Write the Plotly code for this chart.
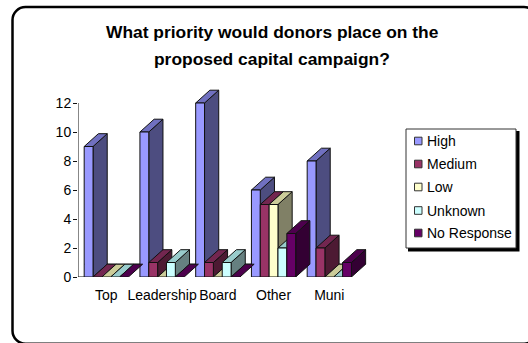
import plotly.graph_objects as go

categories = ["Top", "Leadership", "Board", "Other", "Muni"]
series_names = ["High", "Medium", "Low", "Unknown", "No Response"]
high = [9, 10, 12, 6, 8]
medium = [0, 1, 1, 5, 2]
low = [0, 0, 0, 5, 0]
unknown = [0, 1, 1, 2, 0]
no_response = [0, 0, 0, 3, 1]
y_ticks = [0, 2, 4, 6, 8, 10, 12]

front_colors = ["#9999FF", "#993366", "#FFFFCC", "#CCFFFF", "#660066"]
top_colors = ["#7070C0", "#732650", "#CCCC99", "#99CCCC", "#4D004D"]
side_colors = ["#4D4D80", "#4D1A33", "#808066", "#668080", "#330033"]

W, H = 528, 343
LEFT, RIGHT, TOP, BOTTOM = 78, 370, 80, 277
GROUP_PX = 55.75
UNIT_PX = 14.5
Y_MAX = (BOTTOM - TOP) / UNIT_PX

BAR_W = 8.85 / GROUP_PX
DEPTH_X = 14.2 / GROUP_PX
DEPTH_Y = 12.8 / UNIT_PX
X_MIN = (LEFT - 106.3) / GROUP_PX
X_MAX = (RIGHT - 106.3) / GROUP_PX


def paper_x(px):
    return (px - LEFT) / (RIGHT - LEFT)


def paper_y(py):
    return (BOTTOM - py) / (BOTTOM - TOP)


def polygons(faces):
    xs, ys = [], []
    for face in faces:
        xs += [p[0] for p in face] + [face[0][0], None]
        ys += [p[1] for p in face] + [face[0][1], None]
    return xs, ys


def face_trace(faces, color):
    xs, ys = polygons(faces)
    return go.Scatter(
        x=xs, y=ys, mode="lines", fill="toself", fillcolor=color,
        line=dict(color="#111111", width=1), cliponaxis=False,
        showlegend=False, hoverinfo="skip",
    )


def rule(xs, ys):
    return go.Scatter(x=xs, y=ys, mode="lines", line=dict(color="#111111", width=1),
                      cliponaxis=False, showlegend=False, hoverinfo="skip")


fig = go.Figure()

last_back = len(categories) - 1 + 2.5 * BAR_W + DEPTH_X
# Value axis stops at the highest tick; the rear floor edge shows between the groups
fig.add_trace(rule([X_MIN, X_MIN], [0, y_ticks[-1]]))
fig.add_trace(rule([X_MIN + 6 / GROUP_PX, last_back], [DEPTH_Y, DEPTH_Y]))
fig.add_trace(rule([X_MIN, X_MIN + 6.3 / GROUP_PX], [0, 0]))

# Columns drawn left to right so each front covers its neighbour's side
all_series = [high, medium, low, unknown, no_response]
for s, values in enumerate(all_series):
    tops, sides, fronts = [], [], []
    for i, v in enumerate(values):
        x0 = i - 2.5 * BAR_W + s * BAR_W
        x1 = x0 + BAR_W
        tops.append([(x0, v), (x1, v), (x1 + DEPTH_X, v + DEPTH_Y), (x0 + DEPTH_X, v + DEPTH_Y)])
        if v > 0:
            sides.append([(x1, 0), (x1 + DEPTH_X, DEPTH_Y), (x1 + DEPTH_X, v + DEPTH_Y), (x1, v)])
            fronts.append([(x0, 0), (x1, 0), (x1, v), (x0, v)])
    if sides:
        fig.add_trace(face_trace(sides, side_colors[s]))
    fig.add_trace(face_trace(tops, top_colors[s]))
    if fronts:
        fig.add_trace(face_trace(fronts, front_colors[s]))

FONT = "Liberation Sans, Arial, sans-serif"

# Rounded chart frame running off the right and bottom edges of the page
fl, ft, fr, fb = paper_x(12.5), paper_y(7), paper_x(537), paper_y(343.7)
rx, ry = 13 / (RIGHT - LEFT), 13 / (BOTTOM - TOP)
frame = (
    f"M {fl + rx},{fb} C {fl + rx * 0.45},{fb} {fl},{fb + ry * 0.45} {fl},{fb + ry} "
    f"L {fl},{ft - ry} C {fl},{ft - ry * 0.45} {fl + rx * 0.45},{ft} {fl + rx},{ft} "
    f"L {fr - rx},{ft} C {fr - rx * 0.45},{ft} {fr},{ft - ry * 0.45} {fr},{ft - ry} "
    f"L {fr},{fb + ry} C {fr},{fb + ry * 0.45} {fr - rx * 0.45},{fb} {fr - rx},{fb} Z"
)
shapes = [dict(type="path", xref="paper", yref="paper", path=frame,
               line=dict(color="#000000", width=2.5), layer="below")]

# Legend box with its drop shadow
shapes.append(dict(type="rect", xref="paper", yref="paper",
                   x0=paper_x(408), x1=paper_x(519.5), y0=paper_y(251.5), y1=paper_y(131),
                   fillcolor="#000000", line=dict(width=0), layer="below"))
shapes.append(dict(type="rect", xref="paper", yref="paper",
                   x0=paper_x(406), x1=paper_x(516), y0=paper_y(248), y1=paper_y(129),
                   fillcolor="#FFFFFF", line=dict(color="#333333", width=1), layer="below"))

annotations = []
row_y = [141, 164, 187, 210.5, 233]
for name, color, yc in zip(series_names, front_colors, row_y):
    shapes.append(dict(type="rect", xref="paper", yref="paper",
                       x0=paper_x(414.5), x1=paper_x(422), y0=paper_y(yc + 3.8), y1=paper_y(yc - 3.8),
                       fillcolor=color, line=dict(color="#333333", width=1), layer="below"))
    annotations.append(dict(xref="paper", yref="paper", x=paper_x(425), y=paper_y(yc),
                            xanchor="left", yanchor="middle", showarrow=False, text=name,
                            font=dict(family=FONT, size=14, color="#000000")))

for text, yc in [("What priority would donors place on the", 32),
                 ("proposed capital campaign?", 59)]:
    annotations.append(dict(xref="paper", yref="paper", x=paper_x(272), y=paper_y(yc),
                            xanchor="center", yanchor="middle", showarrow=False,
                            text=f"<b>{text}</b>",
                            font=dict(family=FONT, size=17.4, color="#000000")))

fig.update_layout(
    width=W, height=H, autosize=False,
    margin=dict(l=LEFT, r=W - RIGHT, t=TOP, b=H - BOTTOM, pad=0),
    paper_bgcolor="#FFFFFF", plot_bgcolor="rgba(0,0,0,0)",
    showlegend=False, shapes=shapes, annotations=annotations,
    font=dict(family=FONT, size=14, color="#000000"),
    xaxis=dict(range=[X_MIN, X_MAX], tickvals=list(range(len(categories))), ticktext=categories,
               showgrid=False, zeroline=False, showline=False, ticks="",
               tickfont=dict(size=14), ticklabelstandoff=8, tickangle=0),
    yaxis=dict(range=[0, Y_MAX], tickvals=y_ticks, showgrid=False, zeroline=False,
               showline=False, ticks="outside", ticklen=4, tickcolor="#111111", tickwidth=1,
               tickfont=dict(size=14), ticklabelstandoff=-1),
)

fig.write_html("out.html", config=dict(displayModeBar=False))
